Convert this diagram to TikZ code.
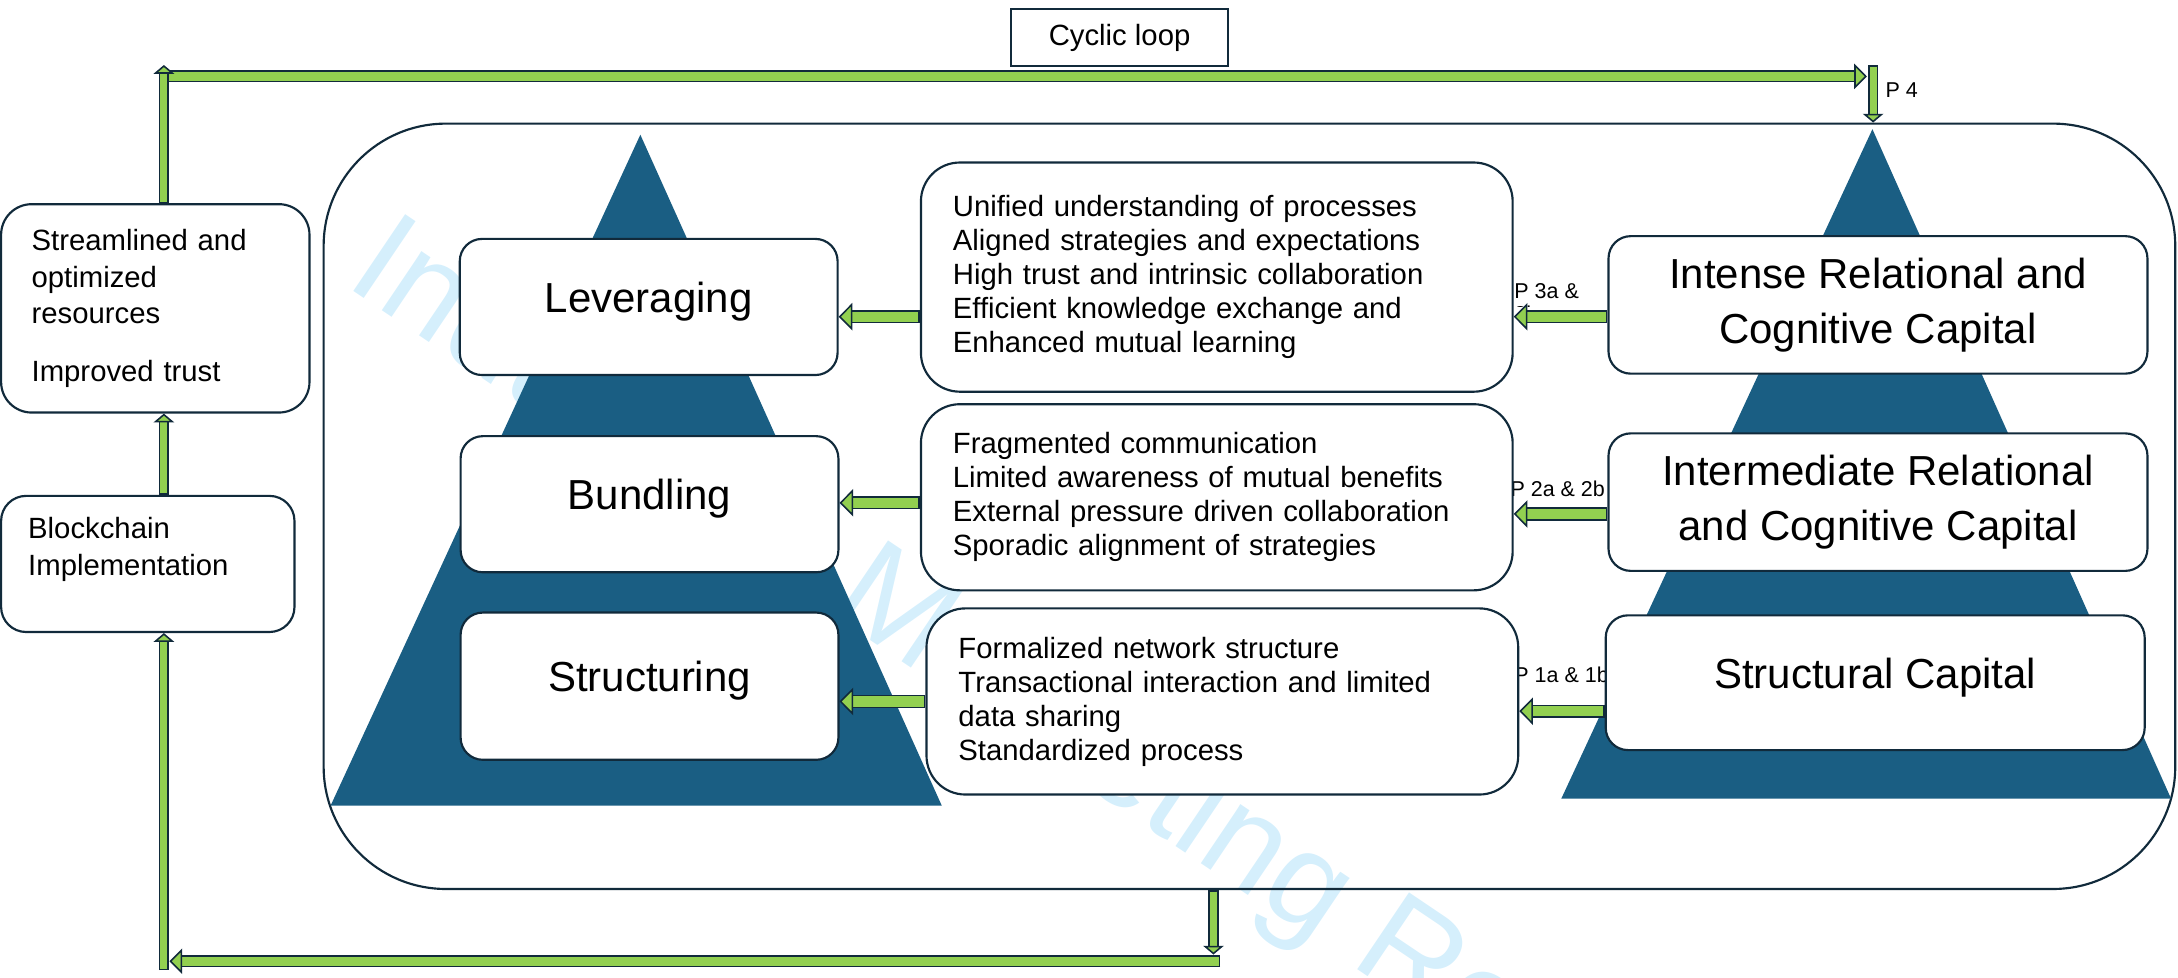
\documentclass[tikz,border=0pt]{standalone}
\usepackage{fontspec}
\setmainfont{Liberation Sans}
\usetikzlibrary{positioning,arrows.meta}

\definecolor{rimDark}{HTML}{112A3B}
\definecolor{flowGreen}{HTML}{92D050}
\definecolor{pyrBlue}{HTML}{1A5E83}
\definecolor{markBlue}{HTML}{D5EFFC}

\newcommand{\fsz}[2]{\fontsize{#1}{#2}\selectfont}

\begin{document}
\begin{tikzpicture}[
    box/.style={rectangle, draw=rimDark, line width=1.1pt, fill=white, rounded corners=#1},
    box/.default=0.45cm,
    stage/.style={box=0.4cm, minimum width=6.8cm, minimum height=2.45cm,
      text height=0.6cm, text depth=0.4cm, font=\fsz{21.5}{26}},
    capital/.style={box=0.4cm, minimum width=9.7cm, minimum height=2.475cm,
      align=center, font=\fsz{21.5}{28.4}},
    notes/.style={box=0.7cm, text width=9.5cm, inner xsep=0.575cm, align=left,
      font=\fsz{15}{17.4}},
    side/.style={box=#1, align=left, font=\fsz{15}{18.7}},
    side/.default=0.55cm,
    plabel/.style={inner sep=0pt, font=\fsz{11}{12}},
    % block arrows: green core on top of a slightly wider dark rim
    flowlink/.style={draw=flowGreen, line width=5.2pt, shorten <=0.8pt,
      -{Triangle[length=7pt, width=14pt, color=rimDark, fill=flowGreen, line width=0.8pt]},
      preaction={draw=rimDark, line width=6.8pt, -, shorten <=0pt, shorten >=4pt}},
    flowbar/.style={draw=flowGreen, line width=4.5pt, shorten <=0.8pt,
      -{Triangle[length=6.5pt, width=13pt, color=rimDark, fill=flowGreen, line width=0.8pt]},
      preaction={draw=rimDark, line width=6.1pt, -, shorten <=0pt, shorten >=3.5pt}},
    flowthin/.style={draw=flowGreen, line width=3.6pt, shorten <=0.8pt,
      -{Triangle[length=4.5pt, width=10.5pt, color=rimDark, fill=flowGreen, line width=0.8pt]},
      preaction={draw=rimDark, line width=5.2pt, -, shorten <=0pt, shorten >=2.5pt}}
  ]
    \useasboundingbox (0,0) rectangle (39.2,17.6);

    %--- watermark, sits underneath everything
    \node[anchor=base west, rotate=-34, text=markBlue, inner sep=0pt, font=\fsz{69}{76}]
      (wm) at (6.175,12.475) {Industrial Marketing Review};

    %--- outer frame and the two pyramids
    \node[draw=rimDark, line width=1.1pt, rounded corners=2.2cm,
      minimum width=33.325cm, minimum height=13.775cm] (frame) at (22.4875,8.4875) {};
    \fill[pyrBlue] (11.525,15.175) -- (16.95,3.1) -- (5.95,3.1) -- cycle;
    \fill[pyrBlue] (33.7,15.275) -- (39.075,3.225) -- (28.1,3.225) -- cycle;

    %--- proposition labels (drawn first so boxes and arrows cover them)
    \begin{scope}
      \clip (27,12.075) rectangle (29,13);
      \node[plabel, align=left, anchor=north west] (p3lab) at (27.25,12.51) {P 3a \&\\3b};
    \end{scope}
    \node[plabel, anchor=west] (p2lab) at (27.18,8.8) {P 2a \& 2b};
    \node[plabel, anchor=west] (p1lab) at (27.25,5.45) {P 1a \& 1b};
    \node[plabel, anchor=west] (p4lab) at (33.93,15.975) {P 4};

    %--- left pyramid: network stages
    \node[stage] (lever) at (11.675,12.075) {Leveraging};
    \node[stage] (bundle) at (11.69,8.525) {Bundling};
    \node[stage, minimum height=2.65cm] (struct) at (11.69,5.25) {Structuring};

    %--- characteristics of each stage
    \node[notes, minimum height=4.125cm] (unified) at (21.9,12.6125) {%
      Unified understanding of processes\\
      Aligned strategies and expectations\\
      High trust and intrinsic collaboration\\
      Efficient knowledge exchange and\\
      Enhanced mutual learning};
    \node[notes, minimum height=3.35cm] (fragment) at (21.9,8.65) {%
      Fragmented communication\\
      Limited awareness of mutual benefits\\
      External pressure driven collaboration\\
      Sporadic alignment of strategies};
    \node[notes, minimum height=3.35cm] (formal) at (22.0,4.975) {%
      Formalized network structure\\
      Transactional interaction and limited\\
      data sharing\\
      Standardized process};

    %--- right pyramid: social capital levels
    \node[capital] (intense) at (33.8,12.1125) {Intense Relational and\\Cognitive Capital};
    \node[capital] (inter) at (33.8,8.5625) {Intermediate Relational\\and Cognitive Capital};
    \node[capital, minimum height=2.425cm, text height=0.6cm, text depth=0.4cm]
      (structural) at (33.75,5.3125) {Structural Capital};

    %--- outside the frame
    \node[side, text width=4.45cm, inner xsep=0.55cm, minimum height=3.75cm]
      (result) at (2.795,12.05) {Streamlined and\\optimized\\resources\\[0.375cm]Improved trust};
    \node[side=0.45cm, minimum width=5.28cm, minimum height=2.45cm] (chain) at (2.66,7.45) {};
    \node[align=left, inner sep=0pt, font=\fsz{15}{19}, anchor=north west]
      (chaintext) at ([xshift=0.5cm, yshift=-0.39cm]chain.north west) {Blockchain\\Implementation};
    \node[draw=rimDark, line width=1.1pt, minimum width=3.9cm, minimum height=1.025cm,
      font=\fsz{15}{18}] (cyclic) at (20.15,16.925) {Cyclic loop};

    %--- loop corners
    \coordinate (loopx) at (2.95,0);
    \coordinate (looptop) at (2.95,16.43);
    \coordinate (barTL) at (3.0,16.225);
    \coordinate (barTR) at (33.6,16.225);
    \coordinate (p4top) at (33.7125,16.43);
    \coordinate (dropx) at (21.84,0);
    \coordinate (dropend) at (21.84,0.42);
    \coordinate (barBR) at (21.96,0.3);
    \coordinate (barBL) at (3.05,0.3);
    \coordinate (loopbot) at (2.95,0.14);

    %--- cyclic loop
    \draw[flowthin] (chain.north -| loopx) -- (result.south -| loopx);
    \draw[flowbar] (barTL) -- (barTR);
    \draw[flowthin] (result.north -| loopx) -- (looptop);
    \draw[flowthin] (p4top) -- (p4top |- frame.north);
    \draw[flowthin] (frame.south -| dropx) -- (dropend);
    \draw[flowbar] (barBR) -- (barBL);
    \draw[flowthin] (loopbot) -- (chain.south -| loopx);

    %--- capital -> characteristics
    \coordinate (p3) at ([yshift=-0.2125cm]intense.west);
    \coordinate (p2) at ([yshift=-0.2125cm]inter.west);
    \coordinate (p1) at ([yshift=-0.5125cm]structural.west);
    \draw[flowlink] (p3) -- (p3 -| unified.east);
    \draw[flowlink] (p2) -- (p2 -| fragment.east);
    \draw[flowlink] (p1) -- (p1 -| formal.east);

    %--- characteristics -> stage
    \coordinate (s3) at ([yshift=-0.7125cm]unified.west);
    \coordinate (s2) at ([yshift=-0.1cm]fragment.west);
    \coordinate (s1) at (formal.west);
    \draw[flowlink] (s3) -- (s3 -| lever.east);
    \draw[flowlink] (s2) -- (s2 -| bundle.east);
    \draw[flowlink] (s1) -- (s1 -| struct.east);
\end{tikzpicture}
\end{document}
